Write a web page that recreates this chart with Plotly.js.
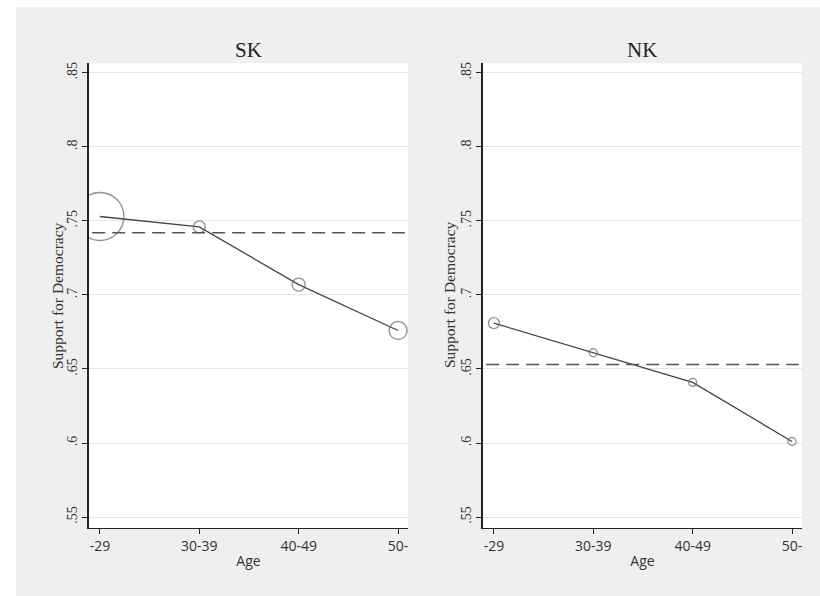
<!DOCTYPE html>
<html>
<head>
<meta charset="utf-8">
<script src="https://cdn.plot.ly/plotly-3.0.1.min.js"></script>
<style>html,body{margin:0;padding:0;background:#fff;}#chart{width:820px;height:596px;}</style>
</head>
<body>
<div id="chart"></div>
<script>
// ---- data ----
const ageGroups = ["-29", "30-39", "40-49", "50-"];
const skSupport = [0.753, 0.746, 0.707, 0.676];
const nkSupport = [0.681, 0.661, 0.641, 0.601];
const skMean = 0.742;
const nkMean = 0.653;
const yTickVals = [0.55, 0.6, 0.65, 0.7, 0.75, 0.8, 0.85];
const yTickText = [".55", ".6", ".65", ".7", ".75", ".8", ".85"];
const panelTitles = ["SK", "NK"];
const xTitle = "Age";
const yTitle = "Support for Democracy";

// ---- styling ----
const skMarkerSize = [48, 12, 13, 18];
const nkMarkerSize = [11, 8, 8, 8];
const serif = "Liberation Serif, Times New Roman, serif";
const sans = "Open Sans, Liberation Sans, sans-serif";

function trace(y, sizes, xa, ya) {
  return {
    x: ageGroups, y: y, xaxis: xa, yaxis: ya,
    type: "scatter", mode: "lines+markers", showlegend: false,
    line: {color: "#444", width: 1.3},
    marker: {symbol: "circle-open", size: sizes, color: "#666", line: {width: 1.4}},
    hoverinfo: "x+y"
  };
}

function xaxis(domain, anchor) {
  return {
    domain: domain, anchor: anchor, type: "category",
    range: [-0.11, 3.1], showgrid: false, zeroline: false,
    showline: true, linecolor: "#222", linewidth: 1.5,
    ticks: "outside", ticklen: 5, tickwidth: 1, tickcolor: "#222",
    tickfont: {family: sans, size: 14, color: "#333"},
    title: {text: xTitle, font: {family: sans, size: 14, color: "#333"}, standoff: 2},
    fixedrange: true
  };
}
function yaxis(anchor) {
  return {
    domain: [0.1141, 0.8943], anchor: anchor,
    range: [0.5426, 0.8567], tickvals: yTickVals, ticktext: yTickText,
    tickangle: -90, showgrid: true, gridcolor: "#e6e6e6", gridwidth: 1, zeroline: false,
    showline: true, linecolor: "#222", linewidth: 1.5,
    ticks: "outside", ticklen: 5, tickwidth: 1, tickcolor: "#222",
    tickfont: {family: serif, size: 14, color: "#333"},
    fixedrange: true
  };
}

const data = [
  trace(skSupport, skMarkerSize, "x", "y"),
  trace(nkSupport, nkMarkerSize, "x2", "y2")
];

const dashStyle = {color: "#555", width: 1.5, dash: "13px,7px"};
const titleFont = {family: serif, size: 21, color: "#222"};
const yTitleFont = {family: serif, size: 15.5, color: "#333"};
const layout = {
  width: 820, height: 596,
  margin: {l: 0, r: 0, t: 0, b: 0},
  paper_bgcolor: "#efefef", plot_bgcolor: "#ffffff",
  xaxis: xaxis([0.1085, 0.4976], "y"),
  yaxis: yaxis("x"),
  xaxis2: xaxis([0.589, 0.978], "y2"),
  yaxis2: yaxis("x2"),
  shapes: [
    {type: "line", xref: "x domain", yref: "y", x0: 0.01, x1: 0.99, y0: skMean, y1: skMean, line: dashStyle, layer: "above"},
    {type: "line", xref: "x2 domain", yref: "y2", x0: 0.01, x1: 0.99, y0: nkMean, y1: nkMean, line: dashStyle, layer: "above"},
    {type: "rect", xref: "paper", yref: "paper", x0: 0, x1: 1, y0: 589/596, y1: 1, fillcolor: "#fff", line: {width: 0}, layer: "above"},
    {type: "rect", xref: "paper", yref: "paper", x0: 0, x1: 16/820, y0: 0, y1: 1, fillcolor: "#fff", line: {width: 0}, layer: "above"}
  ],
  annotations: [
    {text: panelTitles[0], xref: "x domain", yref: "paper", x: 0.5, y: 1 - 50/596, xanchor: "center", yanchor: "middle", showarrow: false, font: titleFont},
    {text: panelTitles[1], xref: "x2 domain", yref: "paper", x: 0.5, y: 1 - 50/596, xanchor: "center", yanchor: "middle", showarrow: false, font: titleFont},
    {text: yTitle, xref: "paper", yref: "paper", x: 58/820, y: 1 - 295/596, textangle: -90, xanchor: "center", yanchor: "middle", showarrow: false, font: yTitleFont},
    {text: yTitle, xref: "paper", yref: "paper", x: 450/820, y: 1 - 295/596, textangle: -90, xanchor: "center", yanchor: "middle", showarrow: false, font: yTitleFont}
  ]
};

Plotly.newPlot("chart", data, layout, {displayModeBar: false, staticPlot: true});
</script>
</body>
</html>
